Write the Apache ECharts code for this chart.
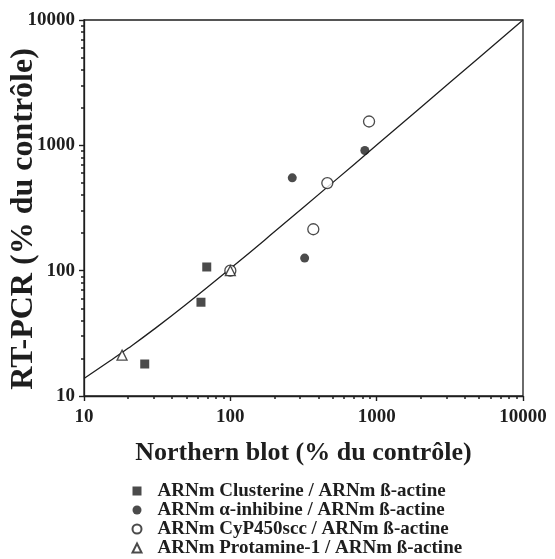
<!DOCTYPE html>
<html><head><meta charset="utf-8">
<script src="https://cdn.jsdelivr.net/npm/echarts@6/dist/echarts.min.js"></script>
<style>html,body{margin:0;padding:0;background:#fff}#c{width:555px;height:559px}</style>
</head><body><div id="c"></div>
<script>
const seriesNames = [
  'ARNm Clusterine / ARNm ß-actine',
  'ARNm α-inhibine / ARNm ß-actine',
  'ARNm CyP450scc / ARNm ß-actine',
  'ARNm Protamine-1 / ARNm ß-actine'
];
const clusterine = [[26, 18], [63, 56], [69, 107]];
const inhibine = [[265, 550], [322, 126], [830, 910]];
const cyp450 = [[100, 100], [369, 214], [460, 500], [887, 1550]];
const protamine = [[18.2, 21.2], [100, 100]];
const fitX = [10, 15, 20, 30, 50, 100, 200, 500, 1000, 2000, 5000, 10000];
const fitY = [13.8, 19, 24, 34, 54, 104, 204, 504, 1004, 2004, 5004, 10000];
const minorTicks = [20,30,40,50,60,70,80,90,200,300,400,500,600,700,800,900,2000,3000,4000,5000,6000,7000,8000,9000];

const font = 'Liberation Serif';
const ink = '#1e1e1e';
const chart = echarts.init(document.getElementById('c'), null, {renderer: 'canvas'});
const fitData = fitX.map((x, i) => [x, fitY[i]]);
const minorLog = minorTicks.map(v => Math.log10(v));

function mainAxis() {
  return {
    type: 'log', logBase: 10, min: 10, max: 10000, gridIndex: 0,
    splitLine: {show: false},
    axisLine: {show: true, onZero: false, lineStyle: {color: ink, width: 1.3}},
    axisTick: {show: true, length: 5, lineStyle: {color: ink, width: 1.4}},
  };
}
function minorAxis(pos) {
  return {
    type: 'value', min: 1, max: 4, gridIndex: 0, position: pos,
    splitLine: {show: false},
    axisLine: {show: false, onZero: false},
    axisTick: {show: true, length: 3, customValues: minorLog, lineStyle: {color: ink, width: 1.5}},
    axisLabel: {show: false}
  };
}
const option = {
  animation: false,
  backgroundColor: '#fff',
  grid: {left: 84, top: 20, right: 32, bottom: 163, show: true, borderColor: ink, borderWidth: 1.3, backgroundColor: 'transparent'},
  xAxis: [
    Object.assign(mainAxis(), {
      name: 'Northern blot (% du contrôle)', nameLocation: 'middle', nameGap: 44,
      nameTextStyle: {fontFamily: font, fontWeight: 'bold', fontSize: 26, color: ink},
      axisLabel: {show: true, margin: 12, formatter: v => String(v), fontFamily: font, fontWeight: 'bold', fontSize: 19, color: ink}
    }),
    minorAxis('bottom')
  ],
  yAxis: [
    Object.assign(mainAxis(), {
      axisLabel: {show: true, margin: 9, formatter: v => String(v), fontFamily: font, fontWeight: 'bold', fontSize: 19, color: ink}
    }),
    minorAxis('left')
  ],
  graphic: [{
    type: 'text', x: 24, y: 219, rotation: Math.PI / 2,
    style: {text: 'RT-PCR (% du contrôle)', fontFamily: font, fontWeight: 'bold', fontSize: 32, fill: ink, align: 'center', verticalAlign: 'middle'}
  }],
  legend: {
    orient: 'vertical', left: 131.5, top: 481.5, padding: 0, itemGap: 0, itemWidth: 9, itemHeight: 9,
    data: seriesNames,
    textStyle: {fontFamily: font, fontWeight: 'bold', fontSize: 19, color: ink, lineHeight: 19, padding: [0, 0, 0, 11]}
  },
  series: [
    {type: 'line', data: fitData, showSymbol: false, symbol: 'none', smooth: true, lineStyle: {color: ink, width: 1.3}, silent: true, z: 1},
    {name: seriesNames[0], type: 'scatter', data: clusterine, symbol: 'rect', symbolSize: 9, itemStyle: {color: ink}, z: 3},
    {name: seriesNames[1], type: 'scatter', data: inhibine, symbol: 'circle', symbolSize: 9, itemStyle: {color: ink}, z: 3},
    {name: seriesNames[2], type: 'scatter', data: cyp450, symbol: 'circle', symbolSize: 11, itemStyle: {color: '#fff', borderColor: ink, borderWidth: 1.3}, z: 3},
    {name: seriesNames[3], type: 'scatter', data: protamine, symbol: 'triangle', symbolSize: 10, itemStyle: {color: '#fff', borderColor: ink, borderWidth: 1.3}, z: 4}
  ]
};
chart.setOption(option);
</script></body></html>
